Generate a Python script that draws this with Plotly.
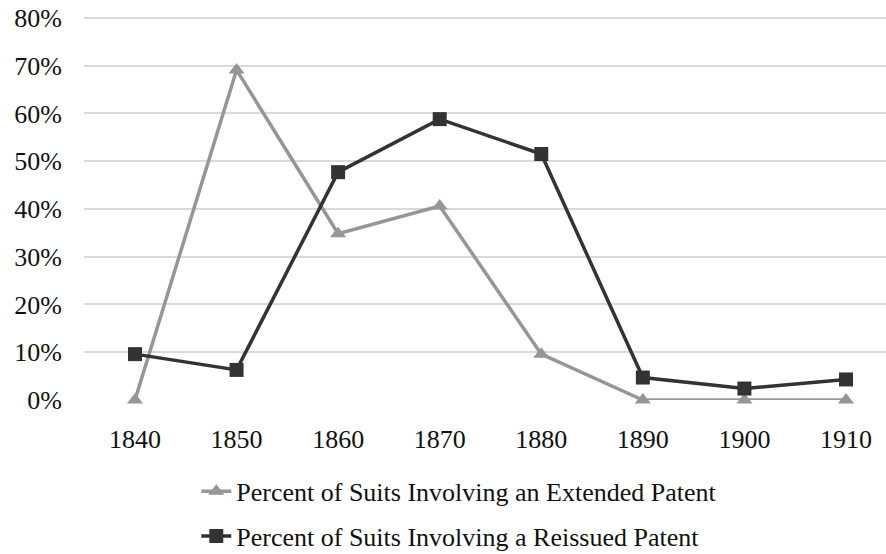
import plotly.graph_objects as go

years = [1840, 1850, 1860, 1870, 1880, 1890, 1900, 1910]
extended_pct = [0, 69.1, 34.8, 40.6, 9.6, 0, 0, 0]
reissued_pct = [9.6, 6.3, 47.7, 58.8, 51.5, 4.7, 2.4, 4.3]
y_ticks = [0, 10, 20, 30, 40, 50, 60, 70, 80]
y_labels = [f"{v}%" for v in y_ticks]
name_ext = "Percent of Suits Involving an Extended Patent"
name_re = "Percent of Suits Involving a Reissued Patent"

FONT = "Liberation Serif"

fig = go.Figure()
fig.add_trace(go.Scatter(
    x=years, y=extended_pct, name=name_ext, mode="lines+markers",
    line=dict(color="#969696", width=3.5),
    marker=dict(symbol="triangle-up", size=14, color="#969696"),
    cliponaxis=False, legendgroup="a",
))
fig.add_trace(go.Scatter(
    x=years, y=reissued_pct, name=name_re, mode="lines+markers",
    line=dict(color="#333333", width=3.5),
    marker=dict(symbol="square", size=14, color="#333333"),
    cliponaxis=False, legendgroup="b",
))

fig.update_layout(
    width=886, height=554,
    margin=dict(l=84, r=0, t=15, b=154, autoexpand=False),
    paper_bgcolor="white", plot_bgcolor="white",
    font=dict(family=FONT, size=26, color="#111111"),
    showlegend=True,
    legend=dict(
        x=0.14, y=-0.176, xanchor="left", yanchor="top",
        orientation="v", tracegroupgap=8,
        font=dict(family=FONT, size=26, color="#111111"),
        itemwidth=30,
    ),
    xaxis=dict(
        range=[1834.98, 1913.94], automargin=False,
        tickmode="array", tickvals=years, ticktext=[str(y) for y in years],
        showgrid=False, zeroline=False, showline=False,
        ticks="outside", ticklen=16, tickcolor="rgba(0,0,0,0)",
        tickfont=dict(family=FONT, size=26),
        ticklabeloverflow="allow",
    ),
    yaxis=dict(
        range=[0, 80.6], automargin=False,
        tickmode="array", tickvals=y_ticks, ticktext=y_labels,
        showgrid=True, gridcolor="#d9d9d9", gridwidth=1.5,
        zeroline=False, showline=False,
        ticks="outside", ticklen=16, tickcolor="rgba(0,0,0,0)",
        tickfont=dict(family=FONT, size=26),
        ticklabeloverflow="allow",
    ),
)

# remove the default 8px page margin so the figure fills the window exactly
fig.write_html(
    "out.html",
    config={"displayModeBar": False},
    post_script="document.body.style.margin='0';",
)
